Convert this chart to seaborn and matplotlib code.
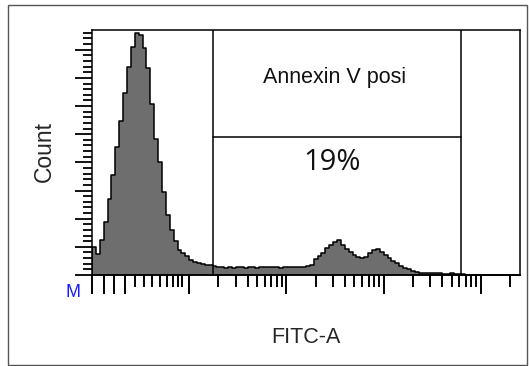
import numpy as np
import pandas as pd
import matplotlib
matplotlib.use("Agg")
import matplotlib.pyplot as plt
import seaborn as sns
from matplotlib.patches import Rectangle

# FITC-A histogram, x in log10 units, bins of 0.04 decade starting at 1.0
bin_start = 1.0
bin_width = 0.04
counts = [
    50, 38, 62, 94, 135, 178, 227, 273, 323, 369,
    405, 430, 426, 403, 368, 304, 242, 201, 147, 107,
    80, 60, 44, 39, 34, 27, 23, 21, 20, 18,
    18, 16,
    14, 15, 13, 14, 12, 14, 15, 13, 14, 14,
    13, 15, 14, 14, 15, 14, 13, 14, 14, 15,
    14, 15, 14, 16, 18,
    28, 34, 39, 48, 53, 59, 62, 53, 46, 41,
    36, 32, 30, 32, 39, 44, 46, 41, 36, 30,
    25, 21, 16, 12, 11, 7, 5, 4, 4, 3,
    4, 3, 3, 2, 2, 3, 1, 2, 1,
    0, 0, 0, 0, 0, 0, 0, 0, 0, 0, 0, 0, 0, 0,
]

gate_left = 2.247
gate_right = 4.794
gate_count = 245
gate_name = "Annexin V posi"
gate_pct = "19%"
x_label = "FITC-A"
y_label = "Count"

# axis tick positions (log10 units)
low_long_ticks = [1.0, 1.124, 1.227, 1.34]
low_short_ticks = [1.443, 1.536, 1.619, 1.701, 1.773, 1.835, 1.887, 1.928]
decades = [2, 3, 4, 5]

n_bins = len(counts)
centers = bin_start + bin_width * (np.arange(n_bins) + 0.5)
hist = pd.DataFrame({"fitc": centers, "count": counts})

sns.set_style("white")
plt.rcParams["font.family"] = ["Liberation Sans", "DejaVu Sans"]

fig = plt.figure(figsize=(5.29, 3.66), dpi=100)
ax = fig.add_axes([92 / 529, 1 - 275 / 366, 428 / 529, 245 / 366])

sns.histplot(data=hist, x="fitc", weights="count", binwidth=bin_width,
             binrange=(bin_start, bin_start + bin_width * n_bins),
             element="step", fill=True, color="#6e6e6e", alpha=1,
             edgecolor="black", linewidth=1.1, ax=ax)

ax.set_xlim(1.0, 5.402)
ax.set_ylim(0, 435)

# gate
ax.axvline(gate_left, color="black", lw=1.1)
ax.axvline(gate_right, color="black", lw=1.1)
ax.plot([gate_left, gate_right], [gate_count, gate_count], color="black", lw=1.1)
mid = (gate_left + gate_right) / 2
ax.text(mid - 0.03, 350, gate_name, ha="center", va="center", fontsize=15.5,
        color="#111111")
ax.text(mid - 0.05, 200, gate_pct, ha="center", va="center", fontsize=21,
        family=["Open Sans", "DejaVu Sans"], color="#111111")

# ticks
major_x = low_long_ticks + decades
minor_x = low_short_ticks + [d + np.log10(k) for d in decades for k in range(2, 10)
                             if d + np.log10(k) < 5.4]
ax.set_xticks(major_x)
ax.set_xticks(minor_x, minor=True)
ax.set_yticks(np.arange(0, 436, 50))
ax.set_yticks(np.arange(0, 436, 10), minor=True)
ax.set_xticklabels([])
ax.set_yticklabels([])
ax.tick_params(axis="x", which="major", direction="out", length=14, width=1.4,
               color="black", bottom=True)
ax.tick_params(axis="x", which="minor", direction="out", length=8.5, width=1.4,
               color="black", bottom=True)
ax.tick_params(axis="y", which="major", direction="out", length=12, width=1.3,
               color="black", left=True)
ax.tick_params(axis="y", which="minor", direction="out", length=6.5, width=1.3,
               color="black", left=True)

for s in ax.spines.values():
    s.set_color("black")
    s.set_linewidth(1.1)

ax.set_xlabel(x_label, fontsize=15.5, va="center")
ax.set_ylabel(y_label, fontsize=16.5, va="center")
ax.xaxis.set_label_coords(0.5, -0.257)
ax.yaxis.set_label_coords(-0.112, 0.506)

ax.text(-0.045, -0.07, "M", transform=ax.transAxes, color="#1a1aff",
        fontsize=13, ha="center", va="center")

fig.patches.append(Rectangle((8 / 529, 1 / 366), 519 / 529, 360 / 366,
                             transform=fig.transFigure, fill=False,
                             edgecolor="#555555", lw=1.0))

fig.savefig("out.png", dpi=100)
